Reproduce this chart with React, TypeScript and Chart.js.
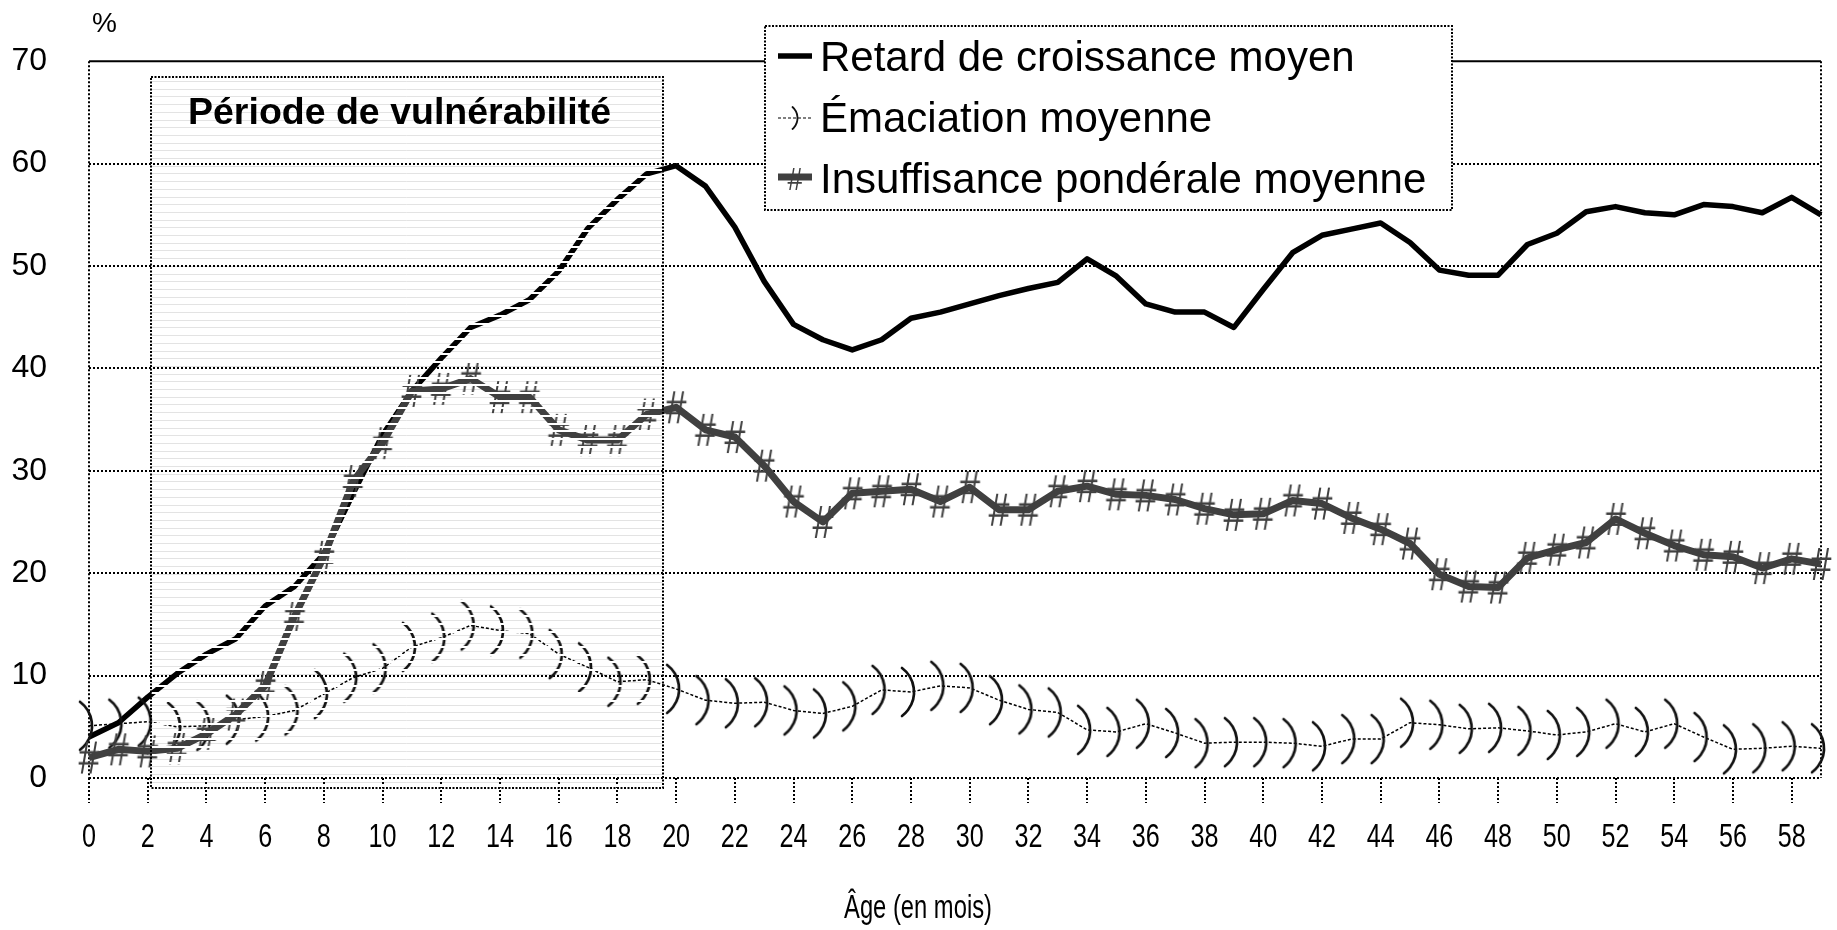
import React, { useEffect, useRef } from 'react';
import { Chart, registerables } from 'chart.js';

Chart.register(...registerables);

// ---------------- data ----------------
const MONTHS = [
  '0', '1', '2', '3', '4', '5', '6', '7', '8', '9',
  '10', '11', '12', '13', '14', '15', '16', '17', '18', '19',
  '20', '21', '22', '23', '24', '25', '26', '27', '28', '29',
  '30', '31', '32', '33', '34', '35', '36', '37', '38', '39',
  '40', '41', '42', '43', '44', '45', '46', '47', '48', '49',
  '50', '51', '52', '53', '54', '55', '56', '57', '58', '59',
];

const RETARD = [
  4.0, 5.4, 7.9, 10.2, 12.1, 13.6, 16.8, 18.7, 21.9, 27.8,
  33.5, 37.8, 41.0, 44.0, 45.2, 46.7, 49.5, 53.7, 56.5, 59.0,
  59.8, 57.8, 53.8, 48.5, 44.3, 42.8, 41.8, 42.8, 44.9, 45.5,
  46.3, 47.1, 47.8, 48.4, 50.7, 49.0, 46.3, 45.5, 45.5, 44.0,
  47.7, 51.3, 53.0, 53.6, 54.2, 52.3, 49.6, 49.1, 49.1, 52.1,
  53.2, 55.3, 55.8, 55.2, 55.0, 56.0, 55.8, 55.2, 56.7, 55.0,
];

const EMACIATION = [
  5.1, 5.3, 5.5, 5.0, 5.1, 5.7, 6.0, 6.6, 8.2, 9.8,
  10.7, 12.8, 13.7, 14.9, 14.4, 14.1, 12.1, 10.8, 9.4, 9.6,
  8.7, 7.6, 7.3, 7.4, 6.6, 6.3, 7.0, 8.6, 8.4, 9.0,
  8.8, 7.6, 6.7, 6.4, 4.7, 4.5, 5.3, 4.4, 3.4, 3.5,
  3.5, 3.4, 3.1, 3.8, 3.8, 5.4, 5.2, 4.8, 4.9, 4.6,
  4.2, 4.5, 5.3, 4.5, 5.3, 4.0, 2.8, 2.9, 3.1, 2.9,
];

const INSUFFISANCE = [
  2.0, 2.8, 2.6, 2.9, 4.3, 6.2, 9.0, 15.8, 21.6, 29.0,
  32.7, 37.8, 38.0, 39.0, 37.2, 37.2, 34.0, 33.0, 33.0, 35.5,
  36.2, 34.0, 33.3, 30.5, 27.0, 25.0, 27.8, 28.0, 28.2, 27.0,
  28.4, 26.2, 26.2, 28.0, 28.5, 27.7, 27.6, 27.2, 26.3, 25.7,
  25.8, 27.1, 26.8, 25.4, 24.3, 22.9, 19.9, 18.7, 18.6, 21.5,
  22.3, 23.0, 25.3, 23.9, 22.7, 21.8, 21.6, 20.5, 21.4, 20.9,
];

const SERIES_NAMES = [
  'Retard de croissance moyen',
  'Émaciation moyenne',
  'Insuffisance pondérale moyenne',
];

// vulnerability period (in axis units: months / %)
const PERIOD_START = 2.1;
const PERIOD_END = 19.55;
const PERIOD_TOP = 68.45;
const PERIOD_BOTTOM = -0.97;
const PERIOD_LABEL = 'Période de vulnérabilité';

const Y_UNIT = '%';
const X_TITLE = 'Âge (en mois)';

// ---------------- styles ----------------
const FONT = "'Liberation Sans', Arial, Helvetica, sans-serif";
const GREY = '#404040';
const W = 1837;
const H = 930;

function makeHash(size: number, sx: number): HTMLCanvasElement {
  const c = document.createElement('canvas');
  const w = Math.round(size * 1.0 / 2) * 2;
  const h = Math.round(size * 1.1 / 2) * 2;
  c.width = w;
  c.height = h;
  const ctx = c.getContext('2d')!;
  ctx.fillStyle = GREY;
  ctx.font = `${size}px ${FONT}`;
  ctx.textAlign = 'center';
  ctx.textBaseline = 'alphabetic';
  ctx.translate(w / 2, h / 2 + size * 0.35);
  ctx.scale(sx, 1);
  ctx.fillText('#', 0, 0);
  return c;
}

function makeParen(halfH: number, sag: number, lw: number, shift: number): HTMLCanvasElement {
  const c = document.createElement('canvas');
  const w = 40;
  const h = Math.round((halfH * 2 + lw * 2 + 6) / 2) * 2;
  c.width = w;
  c.height = h;
  const ctx = c.getContext('2d')!;
  const R = (halfH * halfH + sag * sag) / (2 * sag);
  const x0 = w / 2 + shift - sag / 2;
  const cx = x0 + sag - R;
  const a = Math.asin(halfH / R);
  ctx.strokeStyle = '#111';
  ctx.lineWidth = lw;
  ctx.lineCap = 'round';
  ctx.beginPath();
  ctx.arc(cx, h / 2, R, -a, a);
  ctx.stroke();
  return c;
}

function drawNarrowText(ctx: CanvasRenderingContext2D, text: string, x: number, y: number, size: number, sx: number) {
  ctx.save();
  ctx.translate(x, y);
  ctx.scale(sx, 1);
  ctx.font = `${size}px ${FONT}`;
  ctx.textAlign = 'center';
  ctx.textBaseline = 'middle';
  ctx.fillStyle = '#000';
  ctx.fillText(text, 0, 0);
  ctx.restore();
}

export default function App() {
  const ref = useRef<HTMLCanvasElement | null>(null);

  useEffect(() => {
    document.body.style.margin = '0';
    const canvas = ref.current;
    if (!canvas) return;

    const hashImg = makeHash(46, 0.82);
    const parenImg = makeParen(24, 12, 2.7, -3);
    const legendHash = makeHash(32, 0.85);
    const legendParen = makeParen(11, 5, 1.8, 0);

    const STRIPE = 7.7;

    const framePlugin = {
      id: 'frame',
      beforeDatasetsDraw(chart: any) {
        const { ctx, chartArea: a, scales } = chart;
        const x = scales.x;
        const y = scales.y;
        ctx.save();
        // vulnerability box background (faint grey stripes)
        const bx0 = x.getPixelForValue(PERIOD_START);
        const bx1 = x.getPixelForValue(PERIOD_END);
        const by0 = y.getPixelForValue(PERIOD_TOP);
        const by1 = y.getPixelForValue(PERIOD_BOTTOM);
        ctx.strokeStyle = '#e3e3e3';
        ctx.lineWidth = 1;
        for (let yy = by0 + 4; yy < by1 - 1; yy += STRIPE) {
          const r = Math.round(yy) + 0.5;
          ctx.beginPath();
          ctx.moveTo(bx0, r);
          ctx.lineTo(bx1, r);
          ctx.stroke();
        }
        // horizontal dotted gridlines
        ctx.strokeStyle = '#000';
        ctx.lineWidth = 2;
        ctx.setLineDash([2, 2]);
        y.ticks.forEach((t: any) => {
          if (t.value >= y.max) return;
          const py = Math.round(y.getPixelForValue(t.value));
          ctx.beginPath();
          ctx.moveTo(a.left, py);
          ctx.lineTo(a.right, py);
          ctx.stroke();
        });
        // left / right borders
        ctx.beginPath();
        ctx.moveTo(a.left, a.top);
        ctx.lineTo(a.left, a.bottom);
        ctx.moveTo(a.right, a.top);
        ctx.lineTo(a.right, a.bottom);
        ctx.stroke();
        // tick marks + labels (every second month)
        x.ticks.forEach((t: any, i: number) => {
          if (i % 2 !== 0) return;
          const px = Math.round(x.getPixelForTick(i));
          ctx.beginPath();
          ctx.moveTo(px, a.bottom);
          ctx.lineTo(px, a.bottom + 25);
          ctx.stroke();
        });
        ctx.setLineDash([]);
        x.ticks.forEach((t: any, i: number) => {
          if (i % 2 !== 0) return;
          const px = x.getPixelForTick(i);
          drawNarrowText(ctx, x.getLabelForValue(t.value), px, a.bottom + 60, 34, 0.74);
        });
        // top solid border
        ctx.strokeStyle = '#000';
        ctx.lineWidth = 2;
        ctx.beginPath();
        ctx.moveTo(a.left, a.top);
        ctx.lineTo(a.right, a.top);
        ctx.stroke();
        ctx.restore();
      },
      afterDatasetsDraw(chart: any) {
        const { ctx, scales } = chart;
        const x = scales.x;
        const y = scales.y;
        ctx.save();
        const bx0 = x.getPixelForValue(PERIOD_START);
        const bx1 = x.getPixelForValue(PERIOD_END);
        const by0 = y.getPixelForValue(PERIOD_TOP);
        const by1 = y.getPixelForValue(PERIOD_BOTTOM);
        const grid = y.ticks.map((t: any) => Math.round(y.getPixelForValue(t.value)));
        // white stripes over the series inside the box
        ctx.fillStyle = '#ffffff';
        for (let yy = by0 + 4 + STRIPE / 2; yy < by1 - 2; yy += STRIPE) {
          const r = Math.round(yy);
          if (grid.some((g: number) => Math.abs(g - r) < 3)) continue;
          ctx.fillRect(bx0 + 1, r - 1, bx1 - bx0 - 2, 2);
        }
        // box border
        ctx.strokeStyle = '#000';
        ctx.lineWidth = 2;
        ctx.setLineDash([2, 1.5]);
        ctx.strokeRect(Math.round(bx0), Math.round(by0), Math.round(bx1 - bx0), Math.round(by1 - by0));
        ctx.setLineDash([]);
        // box label
        ctx.fillStyle = '#000';
        ctx.font = `bold 37.5px ${FONT}`;
        ctx.textAlign = 'left';
        ctx.textBaseline = 'alphabetic';
        ctx.fillText(PERIOD_LABEL, 188, 124);

        // legend
        const lx = 765, ly = 26, lw = 687, lh = 184;
        ctx.fillStyle = '#fff';
        ctx.fillRect(lx, ly, lw, lh);
        ctx.strokeStyle = '#000';
        ctx.lineWidth = 2;
        ctx.setLineDash([2, 1.5]);
        ctx.strokeRect(lx, ly, lw, lh);
        ctx.setLineDash([]);
        const ds = chart.data.datasets;
        const rows = [56, 118, 177];
        const bases = [71, 132, 193];
        ds.forEach((d: any, i: number) => {
          const ry = rows[i];
          ctx.strokeStyle = d.borderColor;
          ctx.lineWidth = i === 1 ? 1.2 : d.borderWidth;
          ctx.setLineDash(i === 1 ? [3, 2] : []);
          ctx.beginPath();
          ctx.moveTo(778, ry);
          ctx.lineTo(812, ry);
          ctx.stroke();
          ctx.setLineDash([]);
          if (i === 1) ctx.drawImage(legendParen, 795 - legendParen.width / 2, ry - legendParen.height / 2);
          if (i === 2) ctx.drawImage(legendHash, 795 - legendHash.width / 2, ry + 2 - legendHash.height / 2);
          ctx.fillStyle = '#000';
          ctx.font = `42px ${FONT}`;
          ctx.textAlign = 'left';
          ctx.textBaseline = 'alphabetic';
          ctx.fillText(d.label, 820, bases[i]);
        });

        // unit label
        ctx.font = `28px ${FONT}`;
        ctx.textAlign = 'left';
        ctx.textBaseline = 'middle';
        ctx.fillText(Y_UNIT, 92, 24);
        // x axis title
        drawNarrowText(ctx, X_TITLE, 918, 909, 33, 0.72);
        ctx.restore();
      },
    };

    const chart = new Chart(canvas, {
      type: 'line',
      data: {
        labels: MONTHS,
        datasets: [
          {
            label: SERIES_NAMES[0],
            data: RETARD,
            borderColor: '#000',
            backgroundColor: '#000',
            borderWidth: 5.5,
            pointRadius: 0,
            tension: 0,
            borderJoinStyle: 'round',
            order: 3,
            clip: false,
            fill: false,
          },
          {
            label: SERIES_NAMES[1],
            data: EMACIATION,
            borderColor: '#000',
            backgroundColor: '#000',
            borderWidth: 1.5,
            borderDash: [3, 2],
            pointStyle: parenImg,
            pointRadius: 5,
            tension: 0,
            order: 2,
            clip: false,
            fill: false,
          },
          {
            label: SERIES_NAMES[2],
            data: INSUFFISANCE,
            borderColor: GREY,
            backgroundColor: GREY,
            borderWidth: 7,
            pointStyle: hashImg,
            pointRadius: 5,
            tension: 0,
            borderJoinStyle: 'round',
            order: 1,
            clip: false,
            fill: false,
          },
        ] as any,
      },
      options: {
        animation: false,
        responsive: false,
        devicePixelRatio: 1,
        layout: { padding: { left: 0, top: 53, right: 16, bottom: 0 } },
        plugins: {
          legend: { display: false },
          tooltip: { enabled: false },
          title: { display: false },
        },
        scales: {
          x: {
            type: 'category',
            offset: false,
            grid: { display: false, drawTicks: false },
            border: { display: false },
            ticks: {
              display: false,
              autoSkip: false,
              maxRotation: 0,
              minRotation: 0,
            },
            afterFit: (s: any) => {
              s.height = 152;
              s.paddingLeft = 0;
              s.paddingRight = 0;
            },
          },
          y: {
            min: 0,
            max: 70,
            grid: { display: false, drawTicks: false },
            border: { display: false },
            ticks: {
              stepSize: 10,
              padding: 42,
              color: '#000',
              font: { family: FONT, size: 32 },
            },
            afterFit: (s: any) => {
              s.width = 89;
            },
          },
        },
      } as any,
      plugins: [framePlugin],
    });

    return () => chart.destroy();
  }, []);

  return (
    <div style={{ position: 'absolute', left: 0, top: 0, width: W, height: H, background: '#fff' }}>
      <canvas ref={ref} width={W} height={H} style={{ display: 'block', width: W, height: H }} />
    </div>
  );
}
